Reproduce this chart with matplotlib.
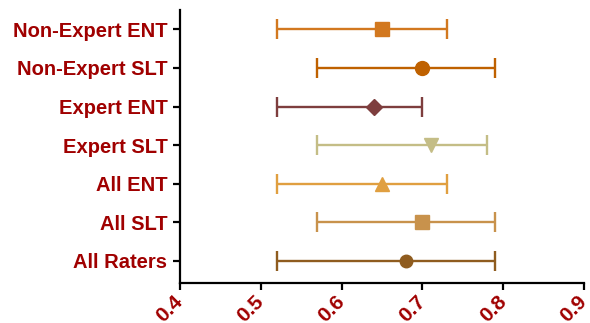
import numpy as np
import matplotlib
matplotlib.use('Agg')
import matplotlib.pyplot as plt

plt.rcParams['font.family'] = ['Liberation Sans', 'DejaVu Sans']

# groups, bottom to top
groups = ['All Raters', 'All SLT', 'All ENT', 'Expert SLT', 'Expert ENT',
          'Non-Expert SLT', 'Non-Expert ENT']
means = [0.68, 0.70, 0.65, 0.71, 0.64, 0.70, 0.65]
lows = [0.52, 0.57, 0.52, 0.57, 0.52, 0.57, 0.52]
highs = [0.79, 0.79, 0.73, 0.78, 0.70, 0.79, 0.73]
colors = ['#8F5C1F', '#C8924C', '#E09F40', '#C4BD86', '#7E3E3E', '#BF6100', '#D2781F']
markers = ['o', 's', '^', 'v', 'D', 'o', 's']
msizes = [9, 10, 10, 10, 8, 10, 10]

label_color = '#A00000'

fig = plt.figure(figsize=(5.9, 3.23), dpi=100)
ax = fig.add_axes([0.305, 0.124, 0.685, 0.845])

for i, g in enumerate(groups):
    m = means[i]
    err = [[m - lows[i]], [highs[i] - m]]
    ax.errorbar([m], [i], xerr=err, fmt=markers[i], color=colors[i],
                mfc=colors[i], mec=colors[i], ms=msizes[i], elinewidth=1.7,
                capsize=7, capthick=1.7)

ax.set_xlim(0.4, 0.9)
ax.set_ylim(-0.57, 6.5)
ax.set_yticks(range(len(groups)))
ax.set_yticklabels(groups)
ax.set_xticks(np.arange(0.4, 0.91, 0.1))
ax.set_xticklabels(['0.4', '0.5', '0.6', '0.7', '0.8', '0.9'])

for lab in ax.get_yticklabels():
    lab.set_fontweight('bold')
    lab.set_fontsize(14.5)
    lab.set_color(label_color)
for lab in ax.get_xticklabels():
    lab.set_fontweight('bold')
    lab.set_fontsize(15)
    lab.set_color(label_color)
    lab.set_rotation(45)
    lab.set_ha('right')
    lab.set_va('center')
    lab.set_rotation_mode('anchor')

ax.spines['top'].set_visible(False)
ax.spines['right'].set_visible(False)
ax.spines['left'].set_linewidth(1.6)
ax.spines['bottom'].set_linewidth(1.6)
ax.tick_params(axis='both', width=1.6, length=5, direction='out')
ax.tick_params(axis='y', pad=4)
ax.tick_params(axis='x', pad=6)

fig.savefig('out.png', dpi=100)
